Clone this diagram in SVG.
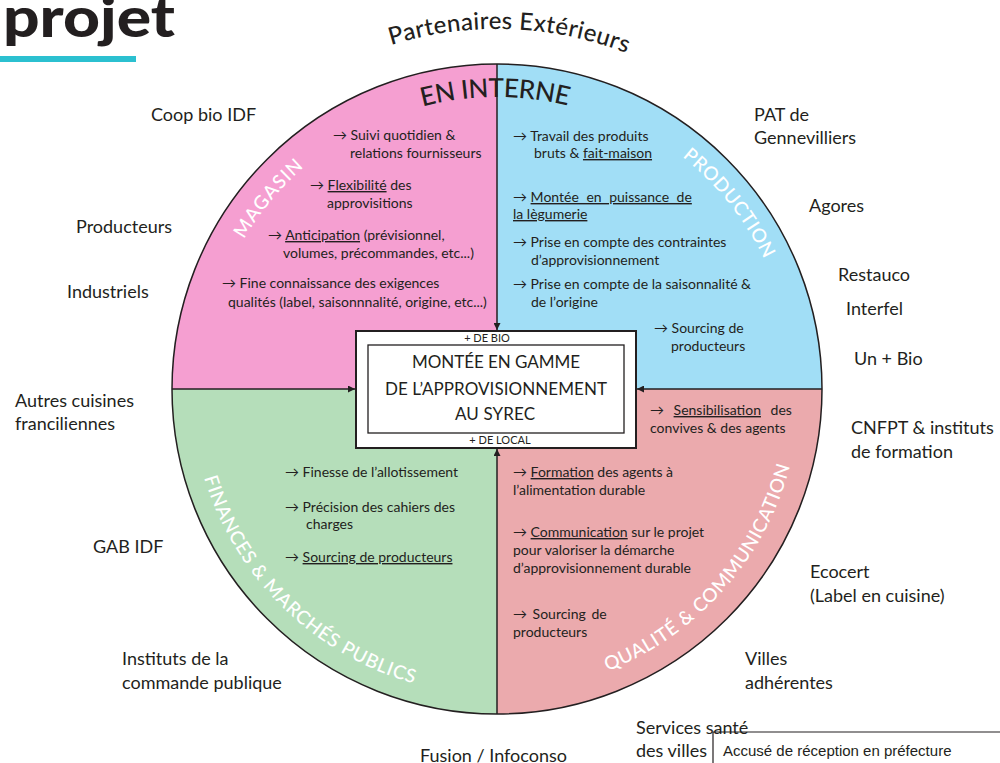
<svg xmlns="http://www.w3.org/2000/svg" width="1000" height="763" viewBox="0 0 1000 763">
<style>
text{font-family:Lato,"Open Sans","DejaVu Sans",sans-serif;fill:#231F20}
.ext{font-size:18px}
.q{font-size:14px}
.u{text-decoration:underline}
.sec{font-size:19px;fill:#fff;font-weight:500}
.ctr{font-size:17px;text-anchor:middle}
.sm{font-size:11px}
.edge{fill:none;stroke:#231F20;stroke-width:1.5}
.conn{stroke:#231F20;stroke-width:1.5;fill:none}
</style>
<defs>
<marker id="ah" viewBox="0 0 10 10" refX="10" refY="5" markerWidth="7" markerHeight="7" markerUnits="userSpaceOnUse" orient="auto">
<path d="M0,0 L10,5 L0,10 Z" fill="#231F20"/>
</marker>
<path id="pExt" d="M137,389 A360,360 0 0 1 857,389"/>
<path id="pInt" d="M205,389 A292,292 0 0 1 789,389"/>
<path id="pMag" d="M203,389 A294,294 0 0 1 497,95"/>
<path id="pProd" d="M497,92 A297,297 0 0 1 794,389"/>
<path id="pFin" d="M191,389 A306,306 0 0 0 497,695"/>
<path id="pQual" d="M497,692 A303,303 0 0 0 800,389"/>
</defs>

<g id="title">
<text x="3" y="37" font-size="56" font-weight="900" textLength="172" lengthAdjust="spacingAndGlyphs">projet</text>
<rect x="0" y="56" width="136" height="6" fill="#2BC0D0"/>
</g>

<g id="circle">
<path d="M497,389 L172,389 A325,325 0 0 1 497,64 Z" fill="#F59FD1"/>
<path d="M497,389 L497,64 A325,325 0 0 1 822,389 Z" fill="#A1DEF6"/>
<path d="M497,389 L822,389 A325,325 0 0 1 497,714 Z" fill="#EBAAAD"/>
<path d="M497,389 L497,714 A325,325 0 0 1 172,389 Z" fill="#B5DEBA"/>
<circle cx="497" cy="389" r="325" class="edge"/>
</g>

<g id="connectors">
<line x1="497" y1="64" x2="497" y2="330" class="conn" marker-end="url(#ah)"/>
<line x1="497" y1="714" x2="497" y2="449" class="conn" marker-end="url(#ah)"/>
<line x1="172" y1="389" x2="355" y2="389" class="conn" marker-end="url(#ah)"/>
<line x1="822" y1="389" x2="637" y2="389" class="conn" marker-end="url(#ah)"/>
</g>

<g id="partenaires-label">
<text font-size="24" font-weight="500" text-anchor="middle"><textPath href="#pExt" startOffset="51.1%" textLength="240">Partenaires Extérieurs</textPath></text>
</g>
<g id="interne-label">
<text font-size="26" font-weight="500" text-anchor="middle"><textPath href="#pInt" startOffset="49.8%" textLength="147">EN INTERNE</textPath></text>
</g>

<g id="magasin">
<text class="sec" text-anchor="middle"><textPath href="#pMag" startOffset="44.2%" textLength="94">MAGASIN</textPath></text>
<text class="q" x="333" y="140">→ Suivi quotidien &amp;</text>
<text class="q" x="350" y="158">relations fournisseurs</text>
<text class="q" x="310" y="190">→ <tspan class="u">Flexibilité</tspan> des</text>
<text class="q" x="327" y="208">approvisitions</text>
<text class="q" x="268" y="240">→ <tspan class="u">Anticipation</tspan> (prévisionnel,</text>
<text class="q" x="283" y="258">volumes, précommandes, etc...)</text>
<text class="q" x="222" y="288">→ Fine connaissance des exigences</text>
<text class="q" x="228" y="307">qualités (label, saisonnnalité, origine, etc...)</text>
</g>

<g id="production">
<text class="sec" text-anchor="middle"><textPath href="#pProd" startOffset="57%" textLength="132">PRODUCTION</textPath></text>
<text class="q" x="513" y="141">→ Travail des produits</text>
<text class="q" x="534" y="158">bruts &amp; <tspan class="u">fait-maison</tspan></text>
<text class="q" x="513" y="202">→ <tspan class="u" word-spacing="4">Montée en puissance de</tspan></text>
<text class="q" x="513" y="219"><tspan class="u">la lègumerie</tspan></text>
<text class="q" x="513" y="247">→ Prise en compte des contraintes</text>
<text class="q" x="531" y="265">d’approvisionnement</text>
<text class="q" x="513" y="289">→ Prise en compte de la saisonnalité &amp;</text>
<text class="q" x="531" y="307">de l’origine</text>
<text class="q" x="654" y="333">→ Sourcing de</text>
<text class="q" x="671" y="351">producteurs</text>
</g>

<g id="qualite">
<text class="sec" text-anchor="middle"><textPath href="#pQual" startOffset="53.7%" textLength="285">QUALITÉ &amp; COMMUNICATION</textPath></text>
<text class="q" x="650" y="415" word-spacing="6">→ <tspan class="u" word-spacing="0">Sensibilisation</tspan> des</text>
<text class="q" x="650" y="433">convives &amp; des agents</text>
<text class="q" x="513" y="477">→ <tspan class="u">Formation</tspan> des agents à</text>
<text class="q" x="513" y="495">l’alimentation durable</text>
<text class="q" x="513" y="537">→ <tspan class="u">Communication</tspan> sur le projet</text>
<text class="q" x="513" y="555">pour valoriser la démarche</text>
<text class="q" x="513" y="573">d’approvisionnement durable</text>
<text class="q" x="513" y="619" word-spacing="2">→ Sourcing de</text>
<text class="q" x="513" y="637">producteurs</text>
</g>

<g id="finances">
<text class="sec" text-anchor="middle"><textPath href="#pFin" startOffset="50.6%" textLength="306">FINANCES &amp; MARCHÉS PUBLICS</textPath></text>
<text class="q" x="285" y="477">→ Finesse de l’allotissement</text>
<text class="q" x="285" y="512">→ Précision des cahiers des</text>
<text class="q" x="306" y="529">charges</text>
<text class="q" x="285" y="562">→ <tspan class="u">Sourcing de producteurs</tspan></text>
</g>

<g id="center-box">
<rect x="356" y="331" width="280" height="117" fill="#fff" stroke="#231F20" stroke-width="2"/>
<rect x="368" y="345" width="256" height="88" fill="none" stroke="#231F20" stroke-width="1.3"/>
<text class="sm" x="487" y="342" text-anchor="middle">+ DE BIO</text>
<text class="ctr" x="496" y="368" textLength="168">MONTÉE EN GAMME</text>
<text class="ctr" x="496" y="395" textLength="222">DE L’APPROVISIONNEMENT</text>
<text class="ctr" x="495" y="420" textLength="80">AU SYREC</text>
<text class="sm" x="500" y="444" text-anchor="middle">+ DE LOCAL</text>
</g>

<g id="partners">
<text class="ext" x="151" y="121">Coop bio IDF</text>
<text class="ext" x="76" y="233">Producteurs</text>
<text class="ext" x="67" y="298">Industriels</text>
<text class="ext" x="15" y="407">Autres cuisines</text>
<text class="ext" x="15" y="430">franciliennes</text>
<text class="ext" x="93" y="553">GAB IDF</text>
<text class="ext" x="122" y="665">Instituts de la</text>
<text class="ext" x="122" y="689">commande publique</text>
<text class="ext" x="420" y="762">Fusion / Infoconso</text>
<text class="ext" x="636" y="734">Services santé</text>
<text class="ext" x="636" y="757">des villes</text>
<text class="ext" x="745" y="665">Villes</text>
<text class="ext" x="745" y="689">adhérentes</text>
<text class="ext" x="810" y="578">Ecocert</text>
<text class="ext" x="810" y="602">(Label en cuisine)</text>
<text class="ext" x="851" y="434">CNFPT &amp; instituts</text>
<text class="ext" x="851" y="458">de formation</text>
<text class="ext" x="854" y="365">Un + Bio</text>
<text class="ext" x="846" y="315">Interfel</text>
<text class="ext" x="838" y="281">Restauco</text>
<text class="ext" x="809" y="212">Agores</text>
<text class="ext" x="754" y="121">PAT de</text>
<text class="ext" x="754" y="144">Gennevilliers</text>
</g>

<g id="stamp">
<path d="M1000,732 H713 V763" fill="none" stroke="#231F20" stroke-width="1.2"/>
<text x="723" y="756" font-size="15" style="font-family:'Liberation Sans',Arial,sans-serif">Accusé de réception en préfecture</text>
</g>
</svg>
